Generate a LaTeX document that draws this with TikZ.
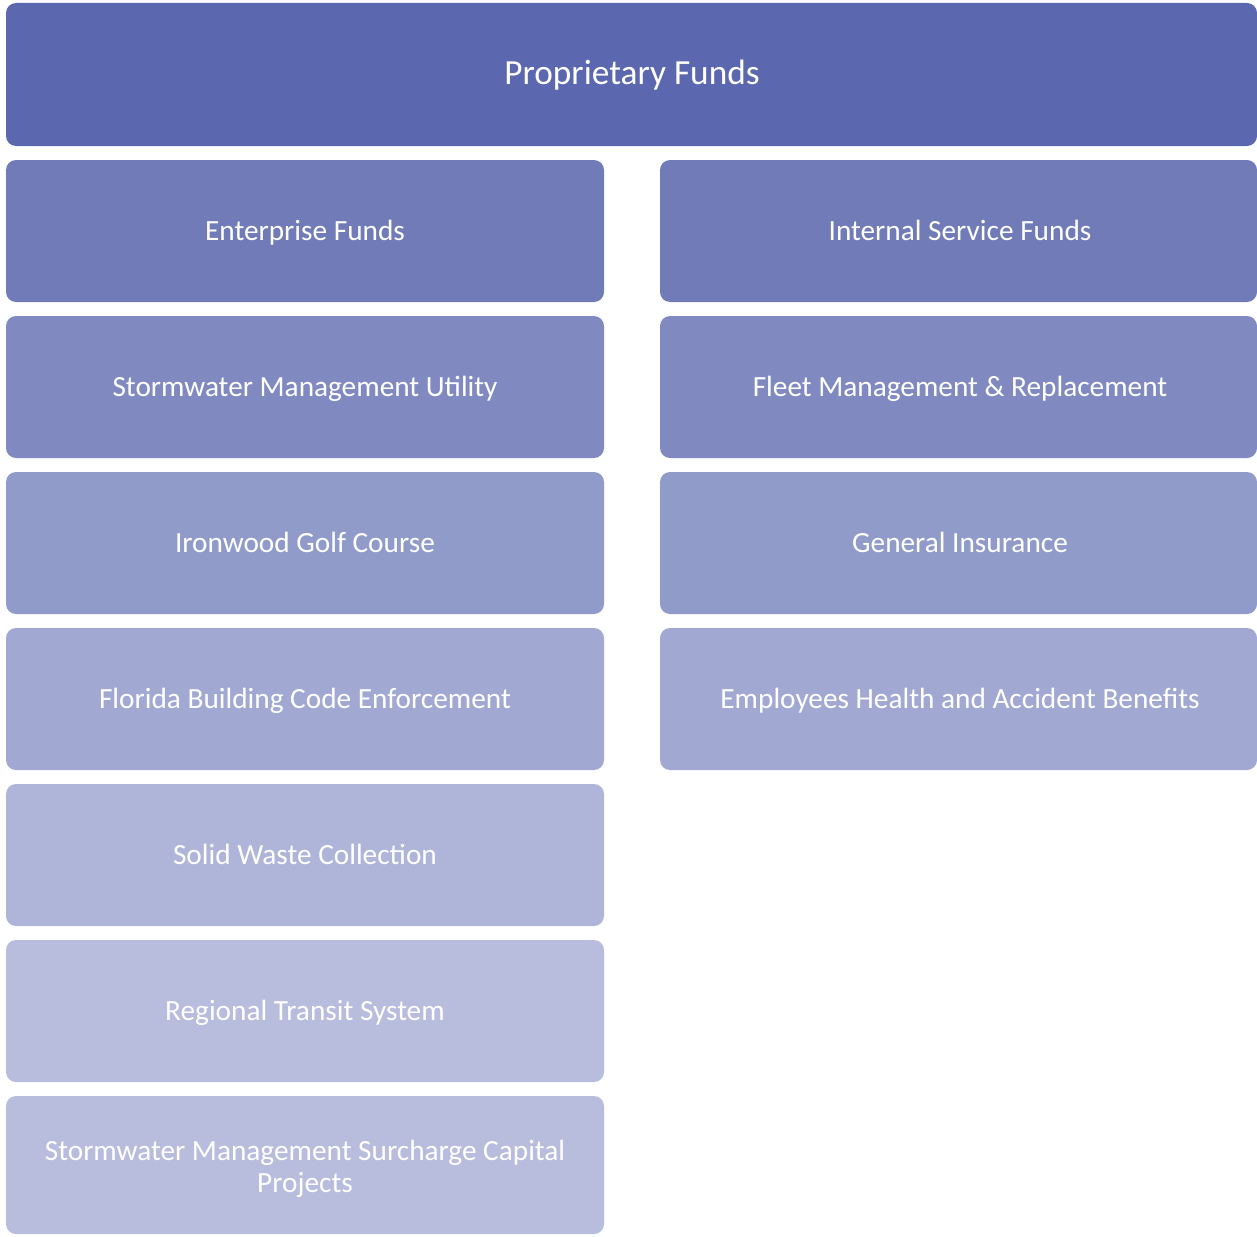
\documentclass[tikz,border=0pt]{standalone}
\usepackage{fontspec}
\setmainfont{Carlito}
\definecolor{c0}{HTML}{5B67AE}
\definecolor{c1}{HTML}{717BB7}
\definecolor{c2}{HTML}{808AC1}
\definecolor{c3}{HTML}{919BCA}
\definecolor{c4}{HTML}{A1A8D2}
\definecolor{c5}{HTML}{AFB5D9}
\definecolor{c6}{HTML}{B8BCDD}
\tikzset{
  fbox/.style={draw=none, text=white, align=center, inner sep=0pt,
    font=\fontsize{29.3}{33}\selectfont},
  onel/.style={fbox, anchor=base},
}
\begin{document}
\begin{tikzpicture}
\useasboundingbox (0,0) rectangle (1257pt,-1236pt);
\fill[c0, rounded corners=10pt] (6pt,-3pt) rectangle (1257pt,-146pt);
\node[onel, font=\fontsize{35.3}{40}\selectfont] (top) at (632pt,-85pt) {Proprietary Funds};
% left column
\foreach \i/\c/\t in {0/c1/Enterprise Funds,1/c2/Stormwater Management Utility,2/c3/Ironwood Golf Course,3/c4/Florida Building Code Enforcement,4/c5/Solid Waste Collection,5/c6/Regional Transit System}{
  \fill[\c, rounded corners=10pt] (6pt,{-(160+156*\i)*1pt}) rectangle (604pt,{-(302+156*\i)*1pt});
  \node[onel] (L\i) at (305pt,{-(240+156*\i)*1pt}) {\t};
}
\fill[c6, rounded corners=10pt] (6pt,-1096pt) rectangle (604pt,-1234pt);
\node[fbox] (L6) at (305pt,-1169pt) {Stormwater Management Surcharge Capital\\[-1pt]Projects};
% right column
\foreach \i/\c/\t in {0/c1/Internal Service Funds,1/c2/Fleet Management \& Replacement,2/c3/General Insurance,3/c4/Employees Health and Accident Benefits}{
  \fill[\c, rounded corners=10pt] (660pt,{-(160+156*\i)*1pt}) rectangle (1257pt,{-(302+156*\i)*1pt});
  \node[onel] (R\i) at (960pt,{-(240+156*\i)*1pt}) {\t};
}
\end{tikzpicture}
\end{document}
